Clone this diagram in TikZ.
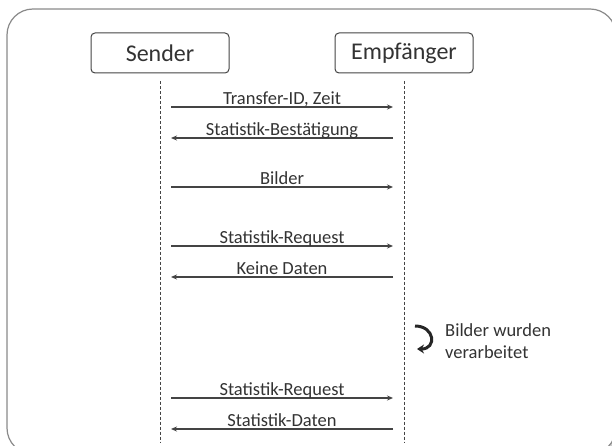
\documentclass[tikz,border=0pt]{standalone}
\usepackage{fontspec}
\setmainfont{Carlito}
\usetikzlibrary{arrows.meta}

\definecolor{linegray}{HTML}{444444}
\definecolor{textgray}{HTML}{333333}
\definecolor{framegray}{HTML}{8A8A8A}

\tikzset{
    party/.style={
        draw=linegray, line width=1pt, rounded corners=4pt,
        minimum width=138pt, minimum height=40pt, inner sep=0pt,
        text=textgray, font=\fontsize{24}{28}\selectfont
    },
    lifeline/.style={draw=linegray, line width=1pt, dash pattern=on 3pt off 2pt},
    msg/.style={draw=linegray, line width=1.4pt, -{Stealth[length=6pt,width=5pt]}},
    msglabel/.style={
        anchor=base, yshift=2.5pt, inner sep=0pt,
        text=textgray, font=\fontsize{18.5}{22}\selectfont
    },
}

\begin{document}
\begin{tikzpicture}[x=1pt, y=-1pt]
        \useasboundingbox (0,0) rectangle (612,446);
        \clip (0,0) rectangle (612,446);

        \fill[gray!40, rounded corners=26pt] (11,13) rectangle (620,458);
        \draw[framegray, fill=white, line width=1.2pt, rounded corners=26pt] (7,9) rectangle (616,454);

        \node[party] (sender) at (160,53) {Sender};
        \node[party] (empf) at (404,53) {Empfänger};

        \coordinate (bottom) at (0,442);
        \foreach \p in {sender,empf} {
            \draw[lifeline] ([yshift=-8pt]\p.south) -- (\p |- bottom);
        }

        \foreach \i/\y in {1/107, 2/138, 3/187, 4/246, 5/277, 6/398, 7/429} {
            \coordinate (s\i) at (171,\y);
            \coordinate (e\i) at (393,\y);
        }

        \draw[msg] (s1) -- node[msglabel] {Transfer-ID, Zeit} (e1);
        \draw[msg] (e2) -- node[msglabel] {Statistik-Bestätigung} (s2);
        \draw[msg] (s3) -- node[msglabel] {Bilder} (e3);
        \draw[msg] (s4) -- node[msglabel] {Statistik-Request} (e4);
        \draw[msg] (e5) -- node[msglabel] {Keine Daten} (s5);
        \draw[msg] (s6) -- node[msglabel] {Statistik-Request} (e6);
        \draw[msg] (e7) -- node[msglabel] {Statistik-Daten} (s7);

        \coordinate (t1) at (415,326);
        \coordinate (t2) at (417,349);
        \draw[line width=3pt, color=black!85, -{Stealth[length=7pt,width=9pt]}]
            (t1) .. controls +(20,0) and +(20,0) .. (t2);

        \node[
            anchor=west,
            align=left,
            inner sep=0pt,
            text=textgray,
            font=\fontsize{18.5}{22}\selectfont
        ] (note) at (445,341) {
            Bilder wurden\\
            verarbeitet
        };
\end{tikzpicture}
\end{document}
